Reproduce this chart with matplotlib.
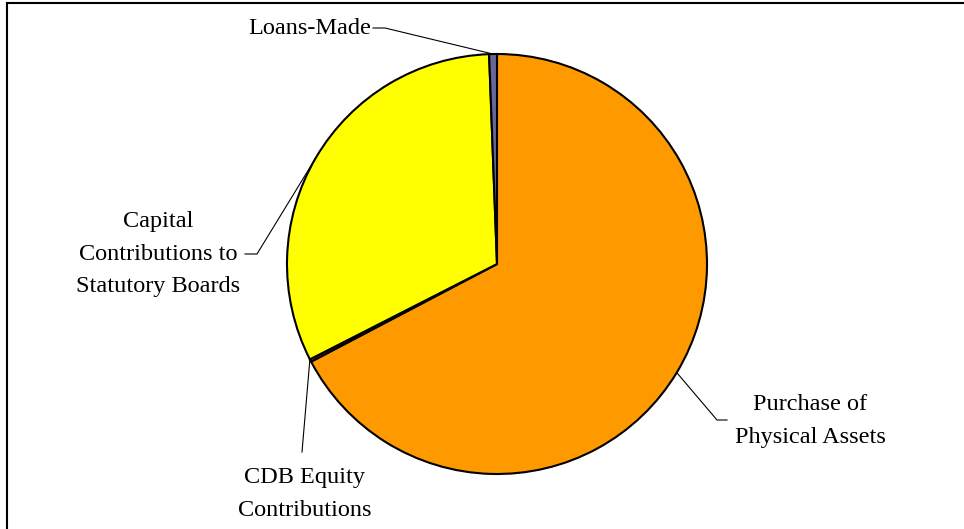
import matplotlib
matplotlib.use("Agg")
import matplotlib.pyplot as plt
import numpy as np

plt.rcParams["font.family"] = ["Liberation Serif", "DejaVu Serif"]

# slice shares (%) in drawing order, clockwise from 12 o'clock
labels = ["Purchase of\nPhysical Assets", "CDB Equity\nContributions",
          "Capital\nContributions to\nStatutory Boards", "Loans-Made"]
shares = [67.3, 0.2, 31.9, 0.6]
colors = ["#FF9900", "#993366", "#FFFF00", "#666699"]

W, H = 964, 529
fig = plt.figure(figsize=(W / 100, H / 100), dpi=100)
ax = fig.add_axes([0, 0, 1, 1])

cx, cy, r = 497, H - 264, 210
wedges, _ = ax.pie(shares, colors=colors, startangle=90, counterclock=False,
                   center=(cx, cy), radius=r, frame=True,
                   wedgeprops=dict(edgecolor="black", linewidth=1.5))
ax.set_xlim(0, W)
ax.set_ylim(0, H)
ax.set_axis_off()

fs = 17.5
ls = 1.7
lc = dict(color="black", lw=0.8)


def mid(w):
    a = np.deg2rad((w.theta1 + w.theta2) / 2)
    return cx + r * np.cos(a), cy + r * np.sin(a)


# Purchase of Physical Assets
px, py = mid(wedges[0])
ax.plot([px, 717, 727], [py, H - 420, H - 420], **lc)
ax.text(810, H - 421, labels[0], ha="center", va="center", fontsize=fs,
        linespacing=ls)

# CDB Equity Contributions
a = np.deg2rad(wedges[1].theta1)
ex, ey = cx + r * np.cos(a), cy + r * np.sin(a)
ax.plot([ex, 302], [ey, H - 452], **lc)
ax.text(305, H - 494, labels[1], ha="center", va="center", fontsize=fs,
        linespacing=ls)

# Capital Contributions to Statutory Boards
qx, qy = mid(wedges[2])
ax.plot([qx, 257, 245], [qy, H - 254, H - 254], **lc)
ax.text(158, H - 254, labels[2], ha="center", va="center", fontsize=fs,
        linespacing=ls)

# Loans-Made
lx, ly = mid(wedges[3])
ax.plot([lx, 385, 373], [ly, H - 28, H - 28], **lc)
ax.text(371, H - 28, labels[3], ha="right", va="center", fontsize=fs)

# chart frame: top and left edges
ax.plot([7, W], [H - 3, H - 3], color="black", lw=1.5)
ax.plot([7, 7], [H - 3, 0], color="black", lw=1.5)

fig.savefig("out.png", dpi=100)
